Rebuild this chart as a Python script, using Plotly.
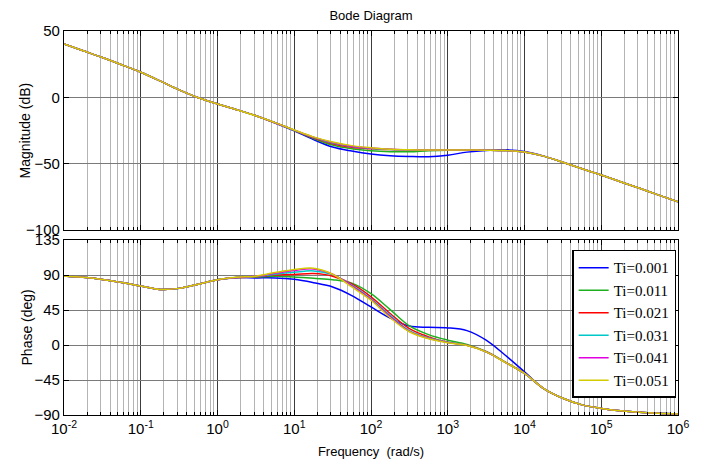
import plotly.graph_objects as go
from plotly.subplots import make_subplots

# log10 of frequency (rad/s)
log_freq = [-2, -1.75, -1.5, -1.25, -1, -0.75, -0.5, -0.25, 0, 0.25, 0.5, 0.75, 1.0,
            1.25, 1.5, 1.75, 2.0, 2.25, 2.5, 2.75, 3.0, 3.25, 3.5, 3.75, 4.0, 4.25,
            4.5, 4.75, 5.0, 5.25, 5.5, 5.75, 6.0]

series_names = ["Ti=0.001", "Ti=0.011", "Ti=0.021", "Ti=0.031", "Ti=0.041", "Ti=0.051"]
series_colors = ["#0000FF", "#1FB01F", "#FF0000", "#00C8C8", "#E000E0", "#D2CC00"]

mag_001 = [40.2, 35.1, 30.0, 24.6, 18.9, 12.4, 5.6, -0.3, -5.0, -9.3, -13.9, -19.3, -25.3,
           -31.8, -37.5, -40.5, -42.7, -44.0, -44.6, -44.8, -43.6,
           -41.3, -40.0, -39.6, -40.9, -44.3, -49.0, -53.8, -58.6, -63.6, -68.6, -73.7, -78.7]
mag_011 = [40.2, 35.1, 30.0, 24.6, 18.9, 12.4, 5.6, -0.3, -5.0, -9.3, -13.9, -19.2, -24.9,
           -31.0, -36.0, -38.8, -40.3, -41.0, -41.0, -40.2, -39.8,
           -39.7, -39.8, -40.1, -41.2, -44.3, -49.0, -53.8, -58.6, -63.6, -68.6, -73.7, -78.7]
mag_021 = [40.2, 35.1, 30.0, 24.6, 18.9, 12.4, 5.6, -0.3, -5.0, -9.3, -13.9, -19.2, -24.8,
           -30.5, -35.0, -37.6, -38.8, -39.4, -39.6, -39.7, -39.7,
           -39.7, -39.8, -40.1, -41.2, -44.3, -49.0, -53.8, -58.6, -63.6, -68.6, -73.7, -78.7]
mag_031 = [40.2, 35.1, 30.0, 24.6, 18.9, 12.4, 5.6, -0.3, -5.0, -9.3, -13.9, -19.2, -24.8,
           -30.2, -34.5, -37.1, -38.5, -39.3, -39.6, -39.7, -39.7,
           -39.7, -39.8, -40.1, -41.2, -44.3, -49.0, -53.8, -58.6, -63.6, -68.6, -73.7, -78.7]
mag_041 = [40.2, 35.1, 30.0, 24.6, 18.9, 12.4, 5.6, -0.3, -5.0, -9.3, -13.9, -19.2, -24.7,
           -30.0, -34.1, -36.8, -38.2, -39.2, -39.6, -39.7, -39.7,
           -39.7, -39.8, -40.1, -41.2, -44.3, -49.0, -53.8, -58.6, -63.6, -68.6, -73.7, -78.7]
mag_051 = [40.2, 35.1, 30.0, 24.6, 18.9, 12.4, 5.6, -0.3, -5.0, -9.3, -13.9, -19.1, -24.6,
           -29.8, -33.7, -36.4, -38.0, -39.1, -39.5, -39.7, -39.7,
           -39.7, -39.8, -40.1, -41.2, -44.3, -49.0, -53.8, -58.6, -63.6, -68.6, -73.7, -78.7]

ph_001 = [88.8, 87.0, 84.3, 80.3, 75.8, 71.5, 72.8, 78.2, 84.0, 86.6,
          86.3, 86.2, 84.4, 80.1, 74.6, 63.6, 49.0, 34.6, 24.3, 22.7, 22.0, 18.5, 6.2, -13.2, -34.5,
          -56.0, -68.5, -77.0, -81.5, -84.5, -86.5, -87.8, -88.7]
ph_011 = [88.8, 87.0, 84.3, 80.3, 75.8, 71.5, 72.8, 78.2, 84.0, 86.7,
          87.2, 88.3, 87.5, 85.7, 84.0, 79.6, 66.0, 45.5, 24.5, 13.3, 6.2, 0.8, -8.3, -22.0, -36.5,
          -56.0, -68.5, -77.0, -81.5, -84.5, -86.5, -87.8, -88.7]
ph_021 = [88.8, 87.0, 84.3, 80.3, 75.8, 71.5, 72.8, 78.2, 84.0, 86.8,
          87.6, 90.0, 90.5, 91.8, 88.5, 78.5, 62.0, 40.5, 21.0, 10.5, 3.5, -0.3, -8.6, -22.2, -36.5,
          -56.0, -68.5, -77.0, -81.5, -84.5, -86.5, -87.8, -88.7]
ph_031 = [88.8, 87.0, 84.3, 80.3, 75.8, 71.5, 72.8, 78.2, 84.0, 86.8,
          88.0, 91.0, 93.5, 95.3, 90.5, 77.0, 59.5, 38.0, 18.5, 9.0, 3.5, -0.5, -8.8, -22.3, -36.5,
          -56.0, -68.5, -77.0, -81.5, -84.5, -86.5, -87.8, -88.7]
ph_041 = [88.8, 87.0, 84.3, 80.3, 75.8, 71.5, 72.8, 78.2, 84.0, 86.9,
          88.3, 92.2, 95.7, 97.8, 91.0, 76.0, 58.5, 36.5, 17.5, 8.5, 3.2, -0.5, -8.8, -22.3, -36.5,
          -56.0, -68.5, -77.0, -81.5, -84.5, -86.5, -87.8, -88.7]
ph_051 = [88.8, 87.0, 84.3, 80.3, 75.8, 71.5, 72.8, 78.2, 84.0, 87.0,
          88.5, 93.1, 97.0, 98.7, 91.0, 74.6, 57.5, 35.0, 17.0, 8.0, 3.0, -0.6, -8.9, -22.4, -36.5,
          -56.0, -68.5, -77.0, -81.5, -84.5, -86.5, -87.8, -88.7]

mag_series = [mag_001, mag_011, mag_021, mag_031, mag_041, mag_051]
ph_series = [ph_001, ph_011, ph_021, ph_031, ph_041, ph_051]

x_tick_exps = [-2, -1, 0, 1, 2, 3, 4, 5, 6]
x_tick_text = ["10<sup>-2</sup>", "10<sup>-1</sup>", "10<sup>0</sup>", "10<sup>1</sup>",
               "10<sup>2</sup>", "10<sup>3</sup>", "10<sup>4</sup>", "10<sup>5</sup>", "10<sup>6</sup>"]
mag_ticks = [-100, -50, 0, 50]
ph_ticks = [-90, -45, 0, 45, 90, 135]

freq = [10 ** v for v in log_freq]
x_tick_vals = [10 ** e for e in x_tick_exps]
minor_vals = [k * 10 ** e for e in x_tick_exps[:-1] for k in range(2, 10)]

fig = make_subplots(rows=2, cols=1, shared_xaxes=False, vertical_spacing=0.026)

for name, col, m, p in zip(series_names, series_colors, mag_series, ph_series):
    fig.add_trace(go.Scatter(x=freq, y=m, mode="lines", name=name, showlegend=False,
                             line=dict(color=col, width=1.5, shape="spline", smoothing=1.0)),
                  row=1, col=1)
    fig.add_trace(go.Scatter(x=freq, y=p, mode="lines", name=name,
                             line=dict(color=col, width=1.5, shape="spline", smoothing=1.0)),
                  row=2, col=1)

font_sans = "Liberation Sans"
font_serif = "Liberation Serif"

xcommon = dict(type="log", range=[-2, 6], tickmode="array", tickvals=x_tick_vals,
               showgrid=True, gridcolor="#3c3c3c", gridwidth=1,
               showline=True, linecolor="black", linewidth=1.2, mirror="allticks",
               ticks="inside", ticklen=5, tickcolor="black",
               minor=dict(tickmode="array", tickvals=minor_vals, showgrid=True,
                          gridcolor="#b4b4b4", gridwidth=1, ticks="inside", ticklen=3,
                          tickcolor="black"),
               zeroline=False)

fig.update_xaxes(**xcommon, showticklabels=False, row=1, col=1)
fig.update_xaxes(**xcommon, ticktext=x_tick_text, showticklabels=True,
                 tickfont=dict(family=font_sans, size=15, color="black"),
                 title=dict(text="Frequency\u00a0 (rad/s)", font=dict(family=font_sans, size=13, color="black"),
                            standoff=10),
                 row=2, col=1)

ycommon = dict(showgrid=True, gridcolor="#7a7a7a", gridwidth=1,
               showline=True, linecolor="black", linewidth=1.2, mirror="allticks",
               ticks="inside", ticklen=5, tickcolor="black", zeroline=False,
               tickfont=dict(family=font_sans, size=15, color="black"))

fig.update_yaxes(**ycommon, range=[-100, 50], tickvals=mag_ticks, row=1, col=1)
fig.update_yaxes(**ycommon, range=[-90, 135], tickvals=ph_ticks, row=2, col=1)

fig.update_layout(
    width=704, height=469,
    margin=dict(l=64, r=26, t=31, b=54),
    plot_bgcolor="white", paper_bgcolor="white",
    font=dict(family=font_sans),
    title=dict(text="Bode Diagram", x=0.5, xanchor="center", y=0.968, yanchor="middle",
               xref="paper", font=dict(family=font_sans, size=13, color="black")),
    legend=dict(x=0.997, xanchor="right", y=0.43, yanchor="top",
                bgcolor="white", bordercolor="black", borderwidth=1.5,
                font=dict(family=font_serif, size=15, color="black"),
                itemwidth=30, tracegroupgap=0),
    showlegend=True,
)
fig.update_layout(yaxis=dict(domain=[0.4818, 1.0]), yaxis2=dict(domain=[0.0, 0.4557]))

fig.add_annotation(text="Magnitude (dB)", textangle=-90, xref="paper", yref="paper",
                   x=0, y=0.7409, xanchor="center", yanchor="middle", xshift=-39, showarrow=False,
                   font=dict(family=font_sans, size=14, color="black"))
fig.add_annotation(text="Phase (deg)", textangle=-90, xref="paper", yref="paper",
                   x=0, y=0.2279, xanchor="center", yanchor="middle", xshift=-37, showarrow=False,
                   font=dict(family=font_sans, size=14, color="black"))

fig.write_html("out.html")
